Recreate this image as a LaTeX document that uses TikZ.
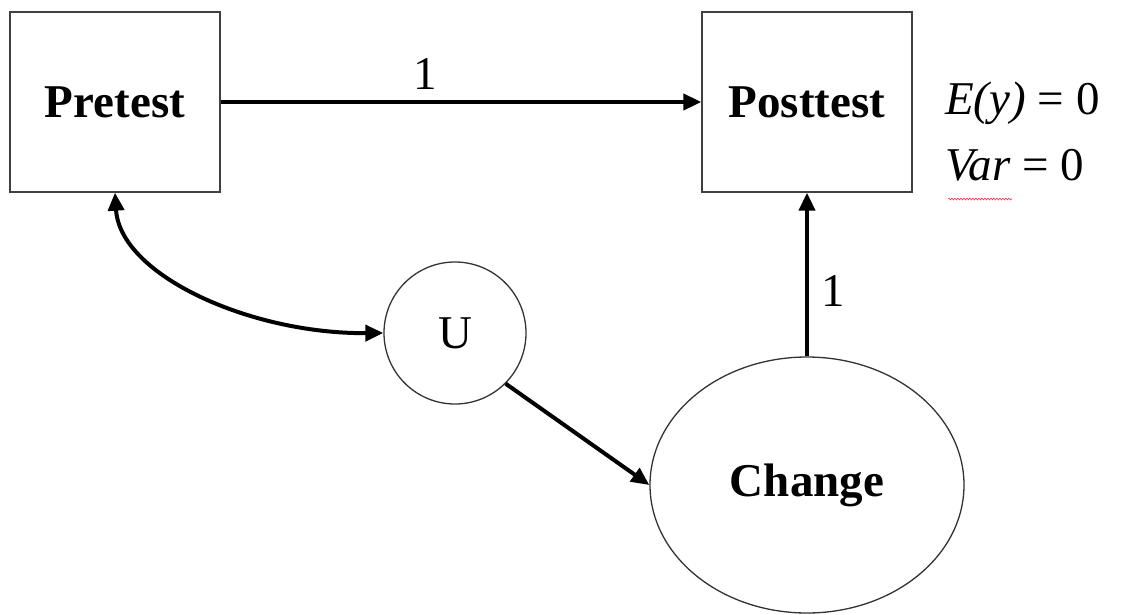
\documentclass[tikz,border=0pt]{standalone}
\usepackage{fontspec}
\setmainfont{Liberation Serif}
\usetikzlibrary{shapes.geometric,arrows.meta,decorations.pathmorphing}
\begin{document}
\begin{tikzpicture}[x=1pt,y=-1pt,
  every node/.style={font=\fontsize{47}{50}\selectfont},
  boxnode/.style={draw=black!75,line width=1.3pt,minimum width=210pt,minimum height=180pt,inner sep=0pt,font=\fontsize{47}{50}\selectfont\bfseries},
  latnode/.style={draw=black!80,line width=1.3pt,inner sep=0pt},
  path/.style={line width=4pt,-{Triangle[length=18pt,width=16pt]}},
  dpath/.style={line width=4pt,{Triangle[length=18pt,width=16pt]}-{Triangle[length=18pt,width=16pt]}},
  lbl/.style={inner sep=0pt}]
\useasboundingbox (0,0) rectangle (1128,614);
\node[boxnode] (pre) at (115,102) {Pretest};
\node[boxnode] (post) at (807,102) {Posttest};
\node[latnode,circle,minimum size=142pt] (u) at (455,333) {U};
\node[latnode,ellipse,minimum width=314pt,minimum height=256pt,font=\fontsize{47}{50}\selectfont\bfseries] (chg) at (807,485) {Change};
\draw[path] (pre.east) -- node[lbl,above=11pt,pos=0.425] (l1) {1} (post.west);
\draw[path] (chg.north) -- node[lbl,right=12pt,pos=0.4] (l2) {1} (post.south);
\draw[dpath] (pre.south) .. controls (120,275) and (250,334) .. (u.west);
\draw[path] (u.-45) -- (chg.west);
\node[lbl,anchor=west] (ey) at (945,103) {\textit{E(y)} = 0};
\node[lbl,anchor=west] (var) at (945,165) {\textit{Var} = 0};
\draw[red!80,line width=0.6pt,decorate,decoration={snake,amplitude=0.9pt,segment length=3pt}] (948,199) -- (1012,199);
\end{tikzpicture}
\end{document}
